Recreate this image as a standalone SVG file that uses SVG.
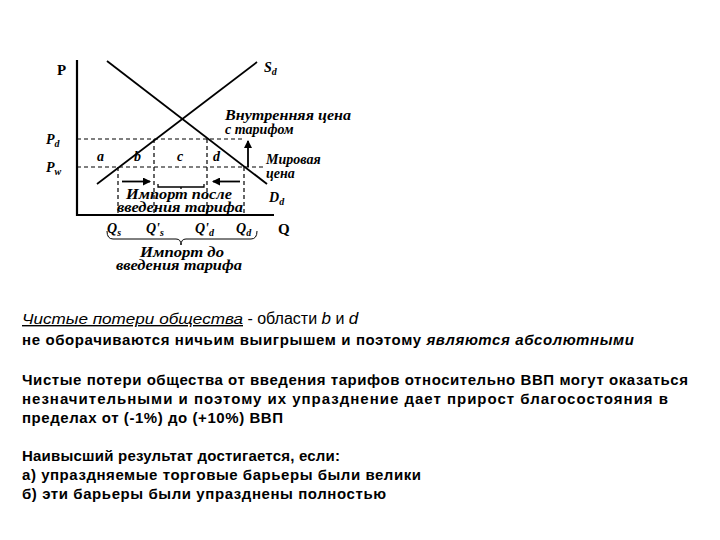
<svg xmlns="http://www.w3.org/2000/svg" width="720" height="540" viewBox="0 0 720 540">
<style>
.ax{stroke:#000;stroke-width:2.2;fill:none}
.ln{stroke:#000;stroke-width:1.8;fill:none}
.ds{stroke:#000;stroke-width:1.2;stroke-dasharray:4,3;fill:none}
.g{font-family:"Liberation Serif",serif;font-style:italic;font-weight:bold;font-size:14px}
.gb{font-family:"Liberation Serif",serif;font-weight:bold;font-size:15px}
.t{font-family:"Liberation Sans",Arial,sans-serif;font-weight:bold;font-size:15px}
</style>
<defs><marker id="ah" markerWidth="8" markerHeight="8" refX="7" refY="4" orient="auto" markerUnits="userSpaceOnUse"><path d="M0,0L8,4L0,8z" fill="#000"/></marker></defs>
<rect width="720" height="540" fill="#fff"/>
<g id="axes">
<path class="ax" d="M77,60V215H274"/>
<text class="gb" x="57" y="75">P</text>
<text class="gb" x="278" y="234">Q</text>
</g>
<g id="connectors">
<path class="ln" d="M97,184L257,62"/>
<path class="ln" d="M107,61L267,184"/>
<path class="ds" d="M77,139H243M77,167H263M118,167V215M154,139V215M207,139V215M244,167V215"/>
<path class="ln" d="M122,181.5H150" marker-end="url(#ah)"/>
<path class="ln" d="M240,181.5H213" marker-end="url(#ah)"/>
<path class="ln" d="M248,167V141" marker-end="url(#ah)"/>
<path stroke="#000" stroke-width="1.3" fill="none" d="M158,184v3h46v-3M181,187v2"/>
<path stroke="#000" stroke-width="1" fill="none" d="M107,231q0,8 6,8h63q5,0 5,6q0,-6 5,-6h65q6,0 6,-8"/>
</g>
<g id="labels">
<text class="g" x="264" y="72" font-size="16">S<tspan font-size="10" dy="3">d</tspan></text>
<text class="g" x="46" y="144" font-size="16">P<tspan font-size="10" dy="3">d</tspan></text>
<text class="g" x="46" y="172" font-size="16">P<tspan font-size="10" dy="3">w</tspan></text>
<text class="g" x="97" y="161" font-size="13">a</text>
<text class="g" x="134" y="161" font-size="13">b</text>
<text class="g" x="177" y="161" font-size="13">c</text>
<text class="g" x="213" y="161" font-size="13">d</text>
<text class="g" x="225" y="120" textLength="126" lengthAdjust="spacingAndGlyphs">Внутренняя цена</text>
<text class="g" x="225" y="134">с тарифом</text>
<text class="g" x="266" y="164">Мировая</text>
<text class="g" x="266" y="178">цена</text>
<text class="g" x="269" y="202" font-size="15">D<tspan font-size="10" dy="3">d</tspan></text>
<text class="g" x="126" y="199" font-size="13" textLength="106" lengthAdjust="spacingAndGlyphs">Импорт после</text>
<text class="g" x="117" y="212" font-size="13" textLength="126" lengthAdjust="spacingAndGlyphs">введения тарифа</text>
<text class="g" x="107" y="233" font-size="15">Q<tspan font-size="10" dy="3">s</tspan></text>
<text class="g" x="146" y="233" font-size="15">Q'<tspan font-size="10" dy="3">s</tspan></text>
<text class="g" x="195" y="233" font-size="15">Q'<tspan font-size="10" dy="3">d</tspan></text>
<text class="g" x="236" y="233" font-size="15">Q<tspan font-size="10" dy="3">d</tspan></text>
<text class="g" x="140" y="257" textLength="84" lengthAdjust="spacingAndGlyphs">Импорт до</text>
<text class="g" x="116" y="270" textLength="126" lengthAdjust="spacingAndGlyphs">введения тарифа</text>
</g>
<g id="text">
<text class="t" x="22" y="324"><tspan font-style="italic" font-weight="normal" font-size="14" text-decoration="underline" textLength="221" lengthAdjust="spacingAndGlyphs">Чистые потери общества</tspan><tspan font-weight="normal" font-size="16"> - области </tspan><tspan font-style="italic" font-weight="normal" font-size="17">b</tspan><tspan font-weight="normal" font-size="16"> и </tspan><tspan font-style="italic" font-weight="normal" font-size="17">d</tspan></text>
<text class="t" x="22" y="345" textLength="612">не оборачиваются ничьим выигрышем и поэтому <tspan font-style="italic">являются абсолютными</tspan></text>
<text class="t" x="22" y="385" textLength="666">Чистые потери общества от введения тарифов относительно ВВП могут оказаться</text>
<text class="t" x="22" y="404" textLength="646">незначительными и поэтому их упразднение дает прирост благосостояния в</text>
<text class="t" x="22" y="423" textLength="261">пределах от (-1%) до (+10%) ВВП</text>
<text class="t" x="22" y="461" textLength="318">Наивысший результат достигается, если:</text>
<text class="t" x="22" y="480" textLength="399">а) упраздняемые торговые барьеры были велики</text>
<text class="t" x="22" y="499" textLength="364">б) эти барьеры были упразднены полностью</text>
</g>
</svg>
